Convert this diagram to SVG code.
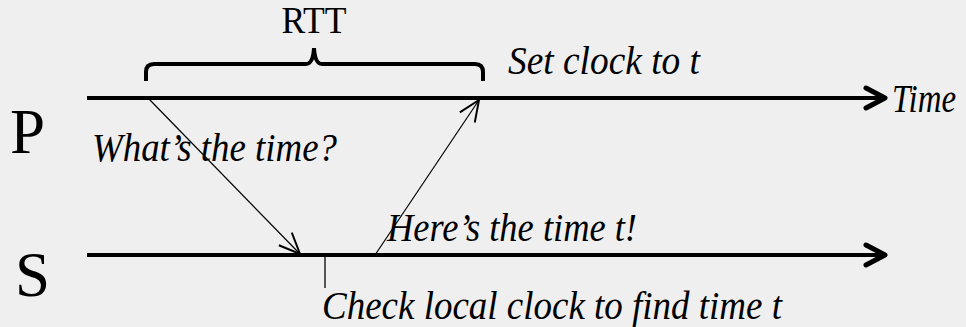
<svg xmlns="http://www.w3.org/2000/svg" width="966" height="327" viewBox="0 0 966 327">
<style>
.bg{fill:#efefef}
.axis{stroke:#000;stroke-width:4;fill:none}
.head{stroke:#000;stroke-width:5;fill:none;stroke-linecap:round;stroke-linejoin:round}
.msg{stroke:#000;stroke-width:1.2;fill:none}
.lbl{font-family:"Liberation Serif","Times New Roman","DejaVu Serif",serif;fill:#000}
.it{font-style:italic;font-size:39px}
</style>
<defs>
<marker id="open" markerUnits="userSpaceOnUse" markerWidth="30" markerHeight="30" viewBox="-16 -10 20 20" refX="0" refY="0" orient="auto" overflow="visible">
<path d="M-14,-6 L0,0 L-14,6" fill="none" stroke="#000" stroke-width="1.3"/>
</marker>
</defs>
<rect class="bg" x="0" y="0" width="966" height="327"/>
<g id="P">
<text class="lbl" x="10" y="153" font-size="63">P</text>
<line class="axis" x1="87" y1="98" x2="883" y2="98"/>
<path class="head" d="M866,88 L885,98 L866,108"/>
<text class="lbl it" x="892" y="112" font-size="37" textLength="64" lengthAdjust="spacingAndGlyphs">Time</text>
</g>
<g id="S">
<text class="lbl" x="15" y="296" font-size="63">S</text>
<line class="axis" x1="87" y1="255" x2="883" y2="255"/>
<path class="head" d="M866,245 L885,255 L866,265"/>
</g>
<g id="rtt">
<path d="M146,81 V72 Q146,64 154,64 H306 Q313,64 314,48 Q315,64 322,64 H475 Q483,64 483,72 V81" fill="none" stroke="#000" stroke-width="4"/>
<text class="lbl" x="314" y="33" font-size="37" text-anchor="middle" textLength="65" lengthAdjust="spacingAndGlyphs">RTT</text>
</g>
<g id="connectors">
<line class="msg" x1="148" y1="98" x2="300" y2="254" marker-end="url(#open)"/>
<line class="msg" x1="375" y1="255" x2="479" y2="100" marker-end="url(#open)"/>
<line x1="325" y1="257" x2="325" y2="288" stroke="#555" stroke-width="2"/>
</g>
<g id="labels">
<text class="lbl it" x="92" y="161" textLength="245" lengthAdjust="spacingAndGlyphs">What’s the time?</text>
<text class="lbl it" x="387" y="241" textLength="250" lengthAdjust="spacingAndGlyphs">Here’s the time t!</text>
<text class="lbl it" x="508" y="74" textLength="192" lengthAdjust="spacingAndGlyphs">Set clock to t</text>
<text class="lbl it" x="322" y="319" textLength="460" lengthAdjust="spacingAndGlyphs">Check local clock to find time t</text>
</g>
</svg>
